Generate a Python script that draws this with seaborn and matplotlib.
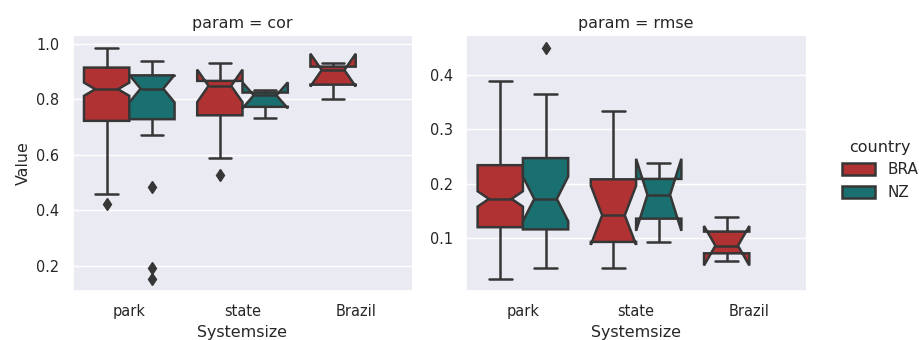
import matplotlib
matplotlib.use("Agg")
import matplotlib.pyplot as plt
import pandas as pd
import seaborn as sns

systemsizes = ["park", "state", "Brazil"]
countries = ["BRA", "NZ"]
params = ["cor", "rmse"]

# correlation per wind park / state / country, by country
cor_park_bra = [
    0.421, 0.457,
    0.478, 0.506, 0.531, 0.549, 0.566, 0.584, 0.597, 0.611, 0.619, 0.628,
    0.637, 0.643, 0.651, 0.656, 0.662, 0.667, 0.671, 0.676, 0.679, 0.683,
    0.686, 0.690, 0.692, 0.695, 0.698, 0.700, 0.703, 0.705, 0.707, 0.710,
    0.712, 0.713, 0.715, 0.716, 0.718, 0.719, 0.720, 0.721,
    0.722,
    0.724, 0.727, 0.729, 0.733, 0.735, 0.738, 0.742, 0.744, 0.747, 0.751,
    0.753, 0.756, 0.760, 0.763, 0.765, 0.769, 0.772, 0.774, 0.778, 0.781,
    0.783, 0.786, 0.790, 0.793, 0.795, 0.798, 0.801, 0.804, 0.807, 0.810,
    0.812, 0.815, 0.818, 0.820, 0.823, 0.826, 0.829, 0.832, 0.834,
    0.836,
    0.837, 0.840, 0.843, 0.844, 0.847, 0.850, 0.851, 0.854, 0.856, 0.857,
    0.861, 0.862, 0.865, 0.867, 0.868, 0.871, 0.873, 0.874, 0.877, 0.879,
    0.880, 0.883, 0.885, 0.886, 0.889, 0.890, 0.892, 0.895, 0.896, 0.898,
    0.901, 0.902, 0.904, 0.905, 0.907, 0.909, 0.910, 0.912, 0.913,
    0.914,
    0.916, 0.917, 0.919, 0.921, 0.922, 0.924, 0.926, 0.927, 0.929, 0.931,
    0.932, 0.934, 0.935, 0.937, 0.939, 0.940, 0.942, 0.944, 0.945, 0.947,
    0.949, 0.950, 0.952, 0.954, 0.955, 0.957, 0.959, 0.961, 0.962, 0.964,
    0.966, 0.968, 0.970, 0.972, 0.974, 0.976, 0.978, 0.981, 0.983,
    0.986,
]
cor_park_nz = [
    0.150, 0.190, 0.484, 0.671, 0.700, 0.715, 0.728, 0.745, 0.770, 0.790,
    0.810, 0.825, 0.838, 0.845, 0.853, 0.862, 0.870, 0.879, 0.886, 0.893,
    0.900, 0.908, 0.915, 0.925, 0.938,
]
cor_state_bra = [0.527, 0.588, 0.738, 0.746, 0.800, 0.848, 0.855, 0.862, 0.870, 0.900, 0.929]
cor_state_nz = [0.731, 0.814, 0.834]
cor_brazil_bra = [0.800, 0.905, 0.930]

# root mean square error for the same groups
rmse_park_bra = [
    0.024,
    0.031, 0.038, 0.044, 0.049, 0.053, 0.058, 0.062, 0.065, 0.069, 0.072,
    0.075, 0.078, 0.080, 0.083, 0.085, 0.088, 0.090, 0.092, 0.094, 0.096,
    0.098, 0.100, 0.101, 0.103, 0.104, 0.106, 0.107, 0.109, 0.110, 0.111,
    0.112, 0.113, 0.114, 0.115, 0.116, 0.117, 0.118, 0.119, 0.119,
    0.120,
    0.121, 0.122, 0.124, 0.125, 0.126, 0.128, 0.129, 0.130, 0.132, 0.133,
    0.134, 0.136, 0.137, 0.139, 0.140, 0.141, 0.143, 0.144, 0.146, 0.147,
    0.148, 0.150, 0.151, 0.153, 0.154, 0.155, 0.157, 0.158, 0.159, 0.160,
    0.162, 0.163, 0.164, 0.166, 0.167, 0.168, 0.169, 0.170, 0.171,
    0.172,
    0.173, 0.175, 0.176, 0.178, 0.179, 0.181, 0.182, 0.184, 0.185, 0.187,
    0.188, 0.190, 0.191, 0.193, 0.194, 0.196, 0.197, 0.199, 0.200, 0.202,
    0.203, 0.205, 0.206, 0.208, 0.209, 0.211, 0.212, 0.214, 0.216, 0.217,
    0.219, 0.220, 0.222, 0.224, 0.225, 0.227, 0.229, 0.231, 0.232,
    0.234,
    0.237, 0.239, 0.242, 0.245, 0.248, 0.251, 0.254, 0.257, 0.260, 0.263,
    0.266, 0.269, 0.272, 0.276, 0.279, 0.282, 0.286, 0.289, 0.293, 0.296,
    0.300, 0.304, 0.308, 0.312, 0.316, 0.320, 0.324, 0.329, 0.333, 0.338,
    0.342, 0.347, 0.352, 0.357, 0.362, 0.367, 0.373, 0.378, 0.384,
    0.389,
]
rmse_park_nz = [
    0.045, 0.070, 0.085, 0.095, 0.103, 0.110, 0.116, 0.125, 0.135, 0.145,
    0.155, 0.164, 0.172, 0.180, 0.190, 0.205, 0.220, 0.235, 0.247, 0.260,
    0.275, 0.290, 0.310, 0.365, 0.450,
]
rmse_state_bra = [0.0445, 0.070, 0.090, 0.096, 0.120, 0.142, 0.160, 0.200, 0.216, 0.260, 0.3335]
rmse_state_nz = [0.092, 0.1795, 0.238]
rmse_brazil_bra = [0.058, 0.086, 0.138]

groups = [
    ("cor", "park", "BRA", cor_park_bra),
    ("cor", "park", "NZ", cor_park_nz),
    ("cor", "state", "BRA", cor_state_bra),
    ("cor", "state", "NZ", cor_state_nz),
    ("cor", "Brazil", "BRA", cor_brazil_bra),
    ("rmse", "park", "BRA", rmse_park_bra),
    ("rmse", "park", "NZ", rmse_park_nz),
    ("rmse", "state", "BRA", rmse_state_bra),
    ("rmse", "state", "NZ", rmse_state_nz),
    ("rmse", "Brazil", "BRA", rmse_brazil_bra),
]

rows = []
for param, size, country, values in groups:
    for v in values:
        rows.append({"param": param, "Systemsize": size, "country": country, "Value": v})
df = pd.DataFrame(rows)

sns.set_theme(style="darkgrid", font_scale=0.95)
palette = {"BRA": "#B03232", "NZ": "#1A7070"}
line_gray = "#363636"

g = sns.catplot(
    data=df, x="Systemsize", y="Value", hue="country", col="param",
    kind="box", notch=True, sharey=False,
    order=systemsizes, hue_order=countries, col_order=params,
    palette=palette, saturation=1, linecolor=line_gray, linewidth=1.8,
    flierprops=dict(marker="d", markersize=6, markerfacecolor=line_gray,
                    markeredgecolor=line_gray, linestyle="none"),
)
g.set_titles("param = {col_name}")
g.figure.set_size_inches(9.2, 3.4)
g.figure.subplots_adjust(left=0.079, right=0.876, bottom=0.144, top=0.894, wspace=0.159)
sns.move_legend(
    g, "center right", bbox_to_anchor=(1.013, 0.5), frameon=False,
    fontsize=11, title_fontsize=11.5, handlelength=2.2, handleheight=0.8,
    handletextpad=0.8,
)
g.figure.savefig("out.png", dpi=100)
